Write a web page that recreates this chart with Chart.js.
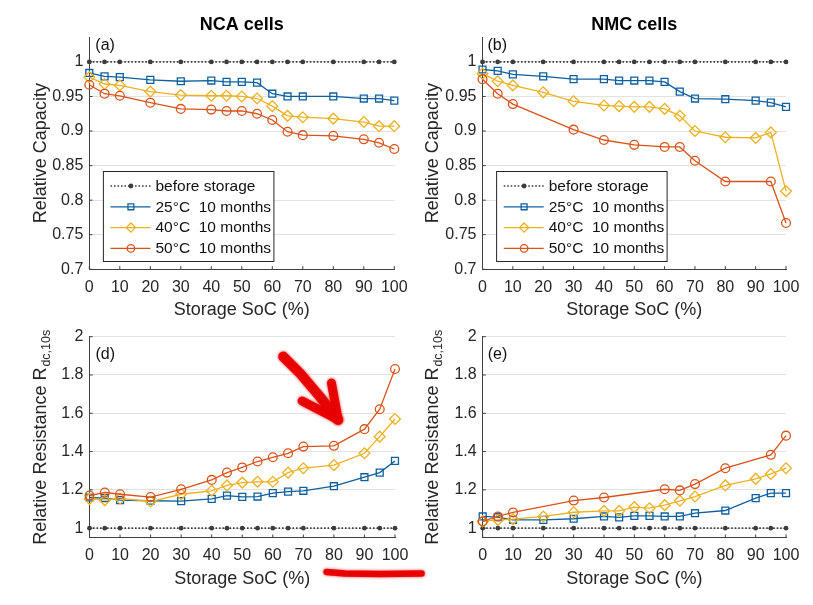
<!DOCTYPE html>
<html><head><meta charset="utf-8">
<script src="https://cdn.jsdelivr.net/npm/chart.js@4.4.0/dist/chart.umd.min.js"></script>
<style>
html,body{margin:0;padding:0;background:#fff;}
#wrap{position:relative;width:813px;height:605px;overflow:hidden;background:#fff;}
#wrap canvas{position:absolute;left:0;top:0;}
</style></head><body>
<div id="wrap">
<canvas id="cA" width="813" height="605"></canvas>
<canvas id="cB" width="813" height="605"></canvas>
<canvas id="cD" width="813" height="605"></canvas>
<canvas id="cE" width="813" height="605"></canvas>
</div>
<script>
// ---------------- DATA ----------------
const soc = [0, 5, 10, 20, 30, 40, 45, 50, 55, 60, 65, 70, 80, 90, 95, 100];
const socNmc50Cap = [0, 5, 10, 30, 40, 50, 60, 65, 70, 80, 95, 100];
const socNmc50Res = [0, 5, 10, 30, 40, 60, 65, 70, 80, 95, 100];
const beforeStorage = [1, 1, 1, 1, 1, 1, 1, 1, 1, 1, 1, 1, 1, 1, 1, 1];

const ncaCap25 = [0.984, 0.979, 0.978, 0.974, 0.972, 0.973, 0.971, 0.971, 0.970, 0.954, 0.950, 0.950, 0.950, 0.947, 0.947, 0.944];
const ncaCap40 = [0.978, 0.968, 0.966, 0.957, 0.952, 0.951, 0.951, 0.950, 0.947, 0.936, 0.922, 0.920, 0.918, 0.913, 0.907, 0.907];
const ncaCap50 = [0.967, 0.954, 0.951, 0.941, 0.932, 0.931, 0.929, 0.929, 0.925, 0.916, 0.899, 0.894, 0.893, 0.888, 0.883, 0.874];

const nmcCap25 = [0.989, 0.987, 0.982, 0.979, 0.975, 0.975, 0.973, 0.973, 0.973, 0.971, 0.957, 0.947, 0.946, 0.944, 0.941, 0.935];
const nmcCap40 = [0.983, 0.972, 0.966, 0.956, 0.943, 0.937, 0.936, 0.935, 0.935, 0.932, 0.922, 0.900, 0.891, 0.890, 0.898, 0.813];
const nmcCap50 = [0.975, 0.954, 0.939, 0.902, 0.887, 0.880, 0.877, 0.877, 0.857, 0.827, 0.827, 0.767];

const ncaRes25 = [1.160, 1.157, 1.146, 1.143, 1.141, 1.153, 1.170, 1.163, 1.165, 1.183, 1.191, 1.195, 1.219, 1.266, 1.290, 1.351];
const ncaRes40 = [1.153, 1.146, 1.155, 1.139, 1.177, 1.195, 1.223, 1.238, 1.242, 1.242, 1.290, 1.313, 1.329, 1.391, 1.478, 1.570];
const ncaRes50 = [1.170, 1.186, 1.177, 1.162, 1.203, 1.252, 1.290, 1.317, 1.348, 1.370, 1.391, 1.426, 1.430, 1.517, 1.621, 1.831];

const nmcRes25 = [1.061, 1.057, 1.043, 1.043, 1.049, 1.061, 1.056, 1.064, 1.064, 1.061, 1.061, 1.078, 1.092, 1.157, 1.183, 1.183];
const nmcRes40 = [1.035, 1.043, 1.047, 1.061, 1.083, 1.090, 1.090, 1.110, 1.104, 1.120, 1.143, 1.165, 1.223, 1.257, 1.283, 1.313];
const nmcRes50 = [1.035, 1.061, 1.082, 1.144, 1.160, 1.203, 1.197, 1.230, 1.313, 1.383, 1.483];

const xTicks = [0, 10, 20, 30, 40, 50, 60, 70, 80, 90, 100];
const xTickLabels = ['0', '10', '20', '30', '40', '50', '60', '70', '80', '90', '100'];
const capTicks = [0.7, 0.75, 0.8, 0.85, 0.9, 0.95, 1];
const capTickLabels = ['0.7', '0.75', '0.8', '0.85', '0.9', '0.95', '1'];
const resTicks = [1, 1.2, 1.4, 1.6, 1.8, 2];
const resTickLabels = ['1', '1.2', '1.4', '1.6', '1.8', '2'];

const seriesLabels = ['before storage', '25°C  10 months', '40°C  10 months', '50°C  10 months'];
const panelTitles = ['NCA cells', 'NMC cells'];
const xTitle = 'Storage SoC (%)';
const capTitle = 'Relative Capacity';
const resTitleMain = 'Relative Resistance R';
const resTitleSub = 'dc,10s';

// annotation strokes (hand-drawn marks), in data coordinates of panel (d)
const arrowShaft = [[63.4, 1.896], [68.9, 1.809], [75.4, 1.687], [81.4, 1.566]];
const arrowBarbs = [[[79.2, 1.758], [81.4, 1.566]], [[69.6, 1.664], [81.4, 1.566]]];
const underlineX = [77.6, 83.6, 95.1, 108.7];
const underlineDy = [34.2, 35.8, 36.3, 35.8];

// ---------------- STYLE ----------------
const FONT = "'Liberation Sans', Arial, Helvetica, sans-serif";
const AXIS = '#404040';
const TXT = '#262626';
const C_BEFORE = '#3c3c3c';
const C25 = '#0d60a0';
const C40 = '#EDB120';
const C50 = '#D95319';
Chart.defaults.font.family = FONT;
Chart.defaults.color = TXT;

function pts(xs, ys) { return xs.map((x, i) => ({x: x, y: ys[i]})); }

function makeSeries(sets) {
  const styles = [
    {color: C_BEFORE, ps: 'circle', r: 2.4, dash: [1.6, 1.9], fill: C_BEFORE, bw: 1.6, pbw: 0},
    {color: C25, ps: 'rect', r: 4.9, dash: [], fill: 'rgba(0,0,0,0)', bw: 1.3, pbw: 1.3},
    {color: C40, ps: 'rectRot', r: 5.4, dash: [], fill: 'rgba(0,0,0,0)', bw: 1.3, pbw: 1.3},
    {color: C50, ps: 'circle', r: 4.4, dash: [], fill: 'rgba(0,0,0,0)', bw: 1.3, pbw: 1.3}
  ];
  return sets.map((s, i) => {
    const st = styles[i];
    return {
      label: seriesLabels[i],
      data: pts(s[0], s[1]),
      borderColor: st.color,
      borderWidth: st.bw,
      borderDash: st.dash,
      pointStyle: st.ps,
      pointRadius: st.r,
      pointBorderColor: st.color,
      pointBackgroundColor: st.fill,
      pointBorderWidth: st.pbw,
      fill: false,
      tension: 0,
      clip: false,
      order: 3 - i
    };
  });
}

const panelPlugin = {
  id: 'panelDeco',
  afterDraw(chart) {
    const o = chart.options.plugins.panelDeco;
    const ctx = chart.ctx;
    const a = chart.chartArea;
    const xs = chart.scales.x, ys = chart.scales.y;
    ctx.save();
    // inner ticks
    ctx.strokeStyle = AXIS; ctx.lineWidth = 1;
    ctx.beginPath();
    xs.ticks.forEach(t => { const p = xs.getPixelForValue(t.value); ctx.moveTo(p, a.bottom); ctx.lineTo(p, a.bottom - 3.2); });
    ys.ticks.forEach(t => { const p = ys.getPixelForValue(t.value); ctx.moveTo(a.left, p); ctx.lineTo(a.left + 3.2, p); });
    ctx.stroke();
    // panel tag
    ctx.fillStyle = '#111';
    ctx.font = '16px ' + FONT;
    ctx.textBaseline = 'middle'; ctx.textAlign = 'left';
    ctx.fillText(o.tag, a.left + o.tagDx, a.top + o.tagDy);
    // resistance y-title with subscript
    if (o.resTitle) {
      const cy = (a.top + a.bottom) / 2;
      ctx.translate(o.yTitleX, cy);
      ctx.rotate(-Math.PI / 2);
      ctx.fillStyle = TXT;
      ctx.font = '18px ' + FONT;
      const wm = ctx.measureText(resTitleMain).width;
      ctx.font = '12.5px ' + FONT;
      const wsub = ctx.measureText(resTitleSub).width;
      const start = -(wm + wsub + 1) / 2;
      ctx.font = '18px ' + FONT;
      ctx.fillText(resTitleMain, start, 0);
      ctx.font = '12.5px ' + FONT;
      ctx.fillText(resTitleSub, start + wm + 1, 5.5);
      ctx.setTransform(1, 0, 0, 1, 0, 0);
    }
    // legend
    if (o.legend) {
      const bx = a.left + 13.6, by = a.top + 134, bw = 170.5, bh = 90;
      ctx.fillStyle = '#fff';
      ctx.fillRect(bx, by, bw, bh);
      ctx.strokeStyle = '#262626'; ctx.lineWidth = 1;
      ctx.strokeRect(bx + 0.5, by + 0.5, bw, bh);
      chart.data.datasets.forEach((ds, i) => {
        const ry = by + 15 + i * 20.8;
        ctx.save();
        ctx.strokeStyle = ds.borderColor; ctx.lineWidth = ds.borderWidth;
        ctx.setLineDash(ds.borderDash || []);
        ctx.beginPath(); ctx.moveTo(bx + 7.6, ry); ctx.lineTo(bx + 47.6, ry); ctx.stroke();
        ctx.setLineDash([]);
        ctx.strokeStyle = ds.pointBorderColor; ctx.fillStyle = ds.pointBackgroundColor;
        ctx.lineWidth = ds.pointBorderWidth;
        Chart.helpers.drawPoint(ctx, {pointStyle: ds.pointStyle, radius: ds.pointRadius * (i === 0 ? 1 : 0.85), rotation: 0, borderWidth: ds.pointBorderWidth}, bx + 28, ry);
        ctx.restore();
        ctx.fillStyle = '#111';
        ctx.font = '15.5px ' + FONT;
        ctx.textBaseline = 'middle'; ctx.textAlign = 'left';
        ctx.fillText(ds.label, bx + 52.6, ry + 0.5);
      });
    }
    // hand-drawn red marks
    if (o.marks) {
      ctx.strokeStyle = 'rgba(232,0,0,0.95)';
      ctx.shadowColor = 'rgba(232,0,0,0.8)';
      ctx.shadowBlur = 3;
      ctx.lineCap = 'round'; ctx.lineJoin = 'round';
      const P = (p) => [xs.getPixelForValue(p[0]), ys.getPixelForValue(p[1])];
      ctx.lineWidth = 10;
      ctx.beginPath();
      arrowShaft.forEach((p, i) => { const q = P(p); if (i === 0) ctx.moveTo(q[0], q[1]); else ctx.lineTo(q[0], q[1]); });
      ctx.stroke();
      ctx.lineWidth = 9;
      arrowBarbs.forEach(b => {
        const q0 = P(b[0]), q1 = P(b[1]);
        ctx.beginPath(); ctx.moveTo(q0[0], q0[1]); ctx.lineTo(q1[0], q1[1]); ctx.stroke();
      });
      ctx.lineWidth = 6.5;
      ctx.beginPath();
      underlineX.forEach((x, i) => {
        const px = xs.getPixelForValue(x), py = a.bottom + underlineDy[i];
        if (i === 0) ctx.moveTo(px, py); else ctx.lineTo(px, py);
      });
      ctx.stroke();
    }
    ctx.restore();
  }
};

function makePanel(id, cfg) {
  const W = cfg.W, H = 52;
  const topTitle = !!cfg.title;
  const padTop = topTitle ? 14.2 : cfg.area.top;
  const titleFontSize = 18;
  const titleLH = titleFontSize * 1.2;
  const titlePadBottom = cfg.area.top - 14.2 - titleLH;
  const ticksArr = cfg.yTicks, labelsArr = cfg.yLabels;
  return new Chart(document.getElementById(id), {
    type: 'line',
    data: {datasets: makeSeries(cfg.sets)},
    options: {
      responsive: false,
      animation: false,
      devicePixelRatio: 1,
      events: [],
      layout: {
        autoPadding: false,
        padding: {left: cfg.area.left - W, right: 813 - cfg.area.right, top: padTop, bottom: 605 - cfg.area.bottom - H}
      },
      plugins: {
        legend: {display: false},
        tooltip: {enabled: false},
        title: {
          display: topTitle, text: cfg.title || '', fullSize: false,
          color: '#000', font: {family: FONT, size: titleFontSize, weight: 'bold', lineHeight: 1.2},
          padding: {top: 0, bottom: titlePadBottom}
        },
        panelDeco: {tag: cfg.tag, tagDx: cfg.tagDx, tagDy: cfg.tagDy, legend: cfg.legend, resTitle: cfg.resTitle, yTitleX: cfg.yTitleX, marks: cfg.marks}
      },
      scales: {
        x: {
          type: 'linear', position: 'bottom', min: 0, max: 100,
          afterBuildTicks: (s) => { s.ticks = xTicks.map(v => ({value: v})); },
          afterFit: (s) => { s.height = H; },
          grid: {display: false, drawTicks: false, tickLength: 0},
          border: {display: true, color: AXIS, width: 1},
          ticks: {padding: 8.6, color: TXT, font: {size: 16, family: FONT}, maxRotation: 0, autoSkip: false,
                  callback: (v, i) => xTickLabels[i]},
          title: {display: true, text: xTitle, color: TXT, font: {size: 18, family: FONT, lineHeight: 1.2}, padding: {top: 0, bottom: 0.2}}
        },
        y: {
          type: 'linear', position: 'left', min: cfg.yMin, max: cfg.yMax,
          afterBuildTicks: (s) => { s.ticks = ticksArr.map(v => ({value: v})); },
          afterFit: (s) => { s.width = W; },
          grid: {display: true, color: '#e2e2e2', lineWidth: 1, drawTicks: false, tickLength: 0},
          border: {display: true, color: AXIS, width: 1},
          ticks: {padding: 6, color: TXT, font: {size: 16, family: FONT}, autoSkip: false,
                  callback: (v, i) => labelsArr[i]},
          title: {display: !cfg.resTitle, text: capTitle, color: TXT, font: {size: 18, family: FONT, lineHeight: 1.2},
                  padding: {top: cfg.yTitleX - (cfg.area.left - W) - 10.8, bottom: 0}}
        }
      }
    },
    plugins: [panelPlugin]
  });
}

makePanel('cA', {
  title: panelTitles[0], area: {left: 89.3, right: 394.3, top: 37, bottom: 269.3}, W: 60, yTitleX: 41,
  yMin: 0.7, yMax: 1.036, yTicks: capTicks, yLabels: capTickLabels,
  tag: '(a)', tagDx: 6, tagDy: 8.8, legend: true,
  sets: [[soc, beforeStorage], [soc, ncaCap25], [soc, ncaCap40], [soc, ncaCap50]]
});
makePanel('cB', {
  title: panelTitles[1], area: {left: 482.5, right: 786, top: 37, bottom: 269.3}, W: 62, yTitleX: 433,
  yMin: 0.7, yMax: 1.036, yTicks: capTicks, yLabels: capTickLabels,
  tag: '(b)', tagDx: 5, tagDy: 8.8, legend: true,
  sets: [[soc, beforeStorage], [soc, nmcCap25], [soc, nmcCap40], [socNmc50Cap, nmcCap50]]
});
makePanel('cD', {
  title: null, area: {left: 89.5, right: 395, top: 336.7, bottom: 537.7}, W: 60, yTitleX: 41,
  yMin: 0.95, yMax: 2, yTicks: resTicks, yLabels: resTickLabels,
  tag: '(d)', tagDx: 6, tagDy: 17.5, resTitle: true, marks: true,
  sets: [[soc, beforeStorage], [soc, ncaRes25], [soc, ncaRes40], [soc, ncaRes50]]
});
makePanel('cE', {
  title: null, area: {left: 482.7, right: 786, top: 336.7, bottom: 537.7}, W: 62, yTitleX: 433,
  yMin: 0.95, yMax: 2, yTicks: resTicks, yLabels: resTickLabels,
  tag: '(e)', tagDx: 5, tagDy: 17.5, resTitle: true,
  sets: [[soc, beforeStorage], [soc, nmcRes25], [soc, nmcRes40], [socNmc50Res, nmcRes50]]
});
</script>
</body></html>
